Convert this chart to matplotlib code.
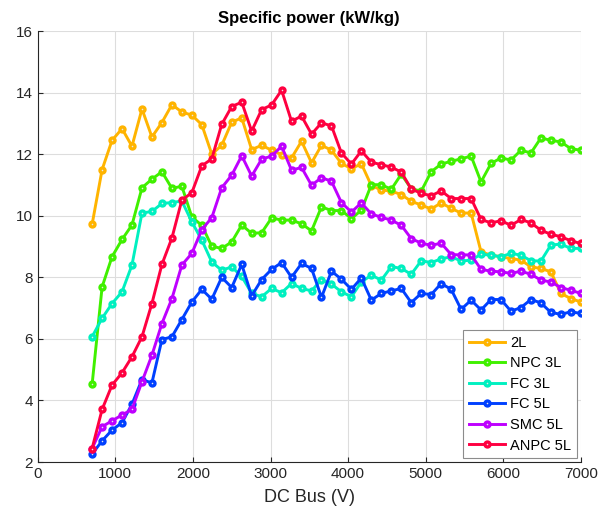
import matplotlib
matplotlib.use("Agg")
import matplotlib.pyplot as plt

plt.rcParams['font.family'] = ['Liberation Sans', 'DejaVu Sans']

# DC bus voltage samples (V)
dc_bus = [700, 829, 957, 1086, 1214, 1343, 1471, 1600, 1729, 1857,
          1986, 2114, 2243, 2371, 2500, 2629, 2757, 2886, 3014, 3143,
          3271, 3400, 3529, 3657, 3786, 3914, 4043, 4171, 4300, 4429,
          4557, 4686, 4814, 4943, 5071, 5200, 5329, 5457, 5586, 5714,
          5843, 5971, 6100, 6229, 6357, 6486, 6614, 6743, 6871, 7000]

# specific power (kW/kg) per topology
p_2l = [9.72, 11.50, 12.45, 12.83, 12.26, 13.47, 12.56, 13.03, 13.61, 13.37,
        13.27, 12.96, 12.00, 12.29, 13.04, 13.18, 12.15, 12.29, 12.13, 11.99,
        11.88, 12.42, 11.72, 12.29, 12.13, 11.70, 11.53, 11.69, 10.98, 10.84,
        10.80, 10.69, 10.47, 10.35, 10.22, 10.42, 10.24, 10.09, 10.09, 8.83,
        8.72, 8.67, 8.61, 8.56, 8.34, 8.29, 8.18, 7.48, 7.31, 7.20]
p_npc3l = [4.52, 7.69, 8.67, 9.23, 9.70, 10.91, 11.19, 11.43, 10.89, 10.96,
           9.96, 9.69, 9.01, 8.94, 9.15, 9.70, 9.43, 9.45, 9.93, 9.86,
           9.86, 9.74, 9.51, 10.29, 10.17, 10.17, 9.91, 10.18, 11.01, 11.01,
           10.86, 11.35, 10.88, 10.80, 11.43, 11.68, 11.77, 11.85, 11.94, 11.10,
           11.70, 11.88, 11.81, 12.13, 12.04, 12.53, 12.45, 12.40, 12.18, 12.13]
p_fc3l = [6.07, 6.67, 7.15, 7.53, 8.40, 10.09, 10.14, 10.40, 10.43, 10.48,
          9.80, 9.21, 8.50, 8.23, 8.34, 8.03, 7.48, 7.37, 7.64, 7.50,
          7.80, 7.64, 7.56, 7.93, 7.78, 7.53, 7.37, 7.85, 8.07, 7.91,
          8.35, 8.29, 8.10, 8.54, 8.48, 8.60, 8.67, 8.53, 8.56, 8.75,
          8.72, 8.67, 8.78, 8.72, 8.54, 8.53, 9.05, 9.08, 8.94, 8.94]
p_fc5l = [2.26, 2.69, 3.04, 3.28, 3.88, 4.68, 4.57, 5.98, 6.07, 6.63,
          7.20, 7.61, 7.29, 8.00, 7.67, 8.42, 7.40, 7.93, 8.26, 8.48,
          8.00, 8.45, 8.29, 7.35, 8.20, 7.94, 7.61, 7.98, 7.26, 7.48,
          7.56, 7.64, 7.18, 7.48, 7.44, 7.80, 7.61, 6.96, 7.26, 6.94,
          7.28, 7.28, 6.90, 7.02, 7.28, 7.17, 6.86, 6.80, 6.88, 6.83]
p_smc5l = [2.44, 3.15, 3.34, 3.53, 3.71, 4.61, 5.47, 6.50, 7.31, 8.40,
           8.78, 9.55, 9.94, 10.91, 11.32, 11.95, 11.29, 11.84, 11.94, 12.26,
           11.48, 11.57, 10.99, 11.24, 11.12, 10.43, 10.12, 10.42, 10.06, 9.95,
           9.86, 9.69, 9.26, 9.11, 9.04, 9.11, 8.74, 8.73, 8.73, 8.26,
           8.20, 8.18, 8.13, 8.20, 8.10, 7.91, 7.85, 7.67, 7.58, 7.48]
p_anpc5l = [2.44, 3.71, 4.50, 4.90, 5.42, 6.07, 7.15, 8.42, 9.28, 10.51,
            10.75, 11.62, 11.85, 12.97, 13.55, 13.69, 12.75, 13.45, 13.60, 14.08,
            13.07, 13.24, 12.65, 13.02, 12.92, 12.04, 11.68, 12.11, 11.74, 11.66,
            11.58, 11.42, 10.87, 10.73, 10.65, 10.81, 10.56, 10.56, 10.56, 9.88,
            9.77, 9.84, 9.69, 9.88, 9.77, 9.53, 9.40, 9.32, 9.19, 9.10]

labels = ['2L', 'NPC 3L', 'FC 3L', 'FC 5L', 'SMC 5L', 'ANPC 5L']
colors = ['#FFB400', '#40F000', '#00F0C0', '#0040FF', '#BE00FF', '#FF0040']
series = [p_2l, p_npc3l, p_fc3l, p_fc5l, p_smc5l, p_anpc5l]

fig = plt.figure(figsize=(6.0, 5.18), dpi=100)
ax = fig.add_axes([0.063, 0.108, 0.905, 0.832])

# thick-edged circles leave only a small light dot in the middle
for vals, col, lab in zip(series, colors, labels):
    ax.plot(dc_bus, vals, color=col, lw=2.1, marker='o', ms=3.6,
            mew=2.4, mfc='#e8e8e8', mec=col, label=lab)

ax.set_xlim(0, 7000)
ax.set_ylim(2, 16)
ax.set_xticks(range(0, 7001, 1000))
ax.set_yticks(range(2, 17, 2))
ax.grid(True, color='#dddddd', lw=0.8)
ax.set_axisbelow(True)

for s in ['top', 'right']:
    ax.spines[s].set_visible(False)
for s in ['left', 'bottom']:
    ax.spines[s].set_color('#262626')
    ax.spines[s].set_linewidth(0.8)
ax.tick_params(direction='in', length=3.5, width=0.8, colors='#262626',
               labelsize=11)

ax.set_xlabel('DC Bus (V)', fontsize=13, color='#262626', labelpad=6)
ax.set_title('Specific power (kW/kg)', fontsize=12, fontweight='bold', pad=6)

leg = ax.legend(loc='lower right', fontsize=10.5, fancybox=False,
                edgecolor='#8c8c8c', framealpha=1, borderaxespad=0.25,
                handlelength=2.5, handletextpad=0.35, labelspacing=0.45,
                borderpad=0.4)
leg.get_frame().set_linewidth(0.8)

fig.savefig('out.png', dpi=100)
